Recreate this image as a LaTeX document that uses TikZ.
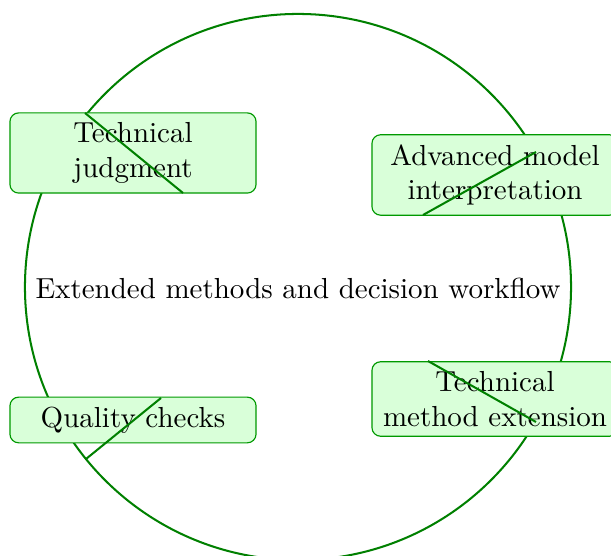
\documentclass[tikz,border=0pt]{standalone}
\usepackage{tikz}
\usetikzlibrary{positioning}
\tikzset{stepbox/.style={draw=green!60!black, fill=green!15, thin, rounded corners=3pt, minimum width=84.9pt, align=center, inner sep=3.33pt}, ring/.style={draw=green!50!black, line width=0.7pt}}

\begin{document}
\begin{tikzpicture}[x=0.345pt, y=-0.345pt]
                 \useasboundingbox (0,0) rectangle (611,556);

                 \coordinate (mid) at (298,287);
                 \draw[ring] (mid) circle [radius=94.2pt];
                 \node (title) at (298,288) {Extended methods and decision workflow};

                 \node[stepbox] (judge) at (133,153) {Technical\\judgment};
                 \node[stepbox] (interp) at (495,175) {Advanced model\\interpretation};
                 \node[stepbox] (checks) at (133,420) {Quality checks};
                 \node[stepbox] (extend) at (495,399) {Technical\\method extension};

                 \coordinate (j1) at (85,113);
                 \coordinate (j2) at (183,193);
                 \coordinate (i1) at (423,215);
                 \coordinate (i2) at (536,152);
                 \coordinate (q1) at (86,459);
                 \coordinate (q2) at (161,398);
                 \coordinate (e1) at (428,361);
                 \coordinate (e2) at (536,422);

                 \draw[ring] (j1) -- (j2);
                 \draw[ring] (i1) -- (i2);
                 \draw[ring] (q1) -- (q2);
                 \draw[ring] (e1) -- (e2);

\end{tikzpicture}
\end{document}
